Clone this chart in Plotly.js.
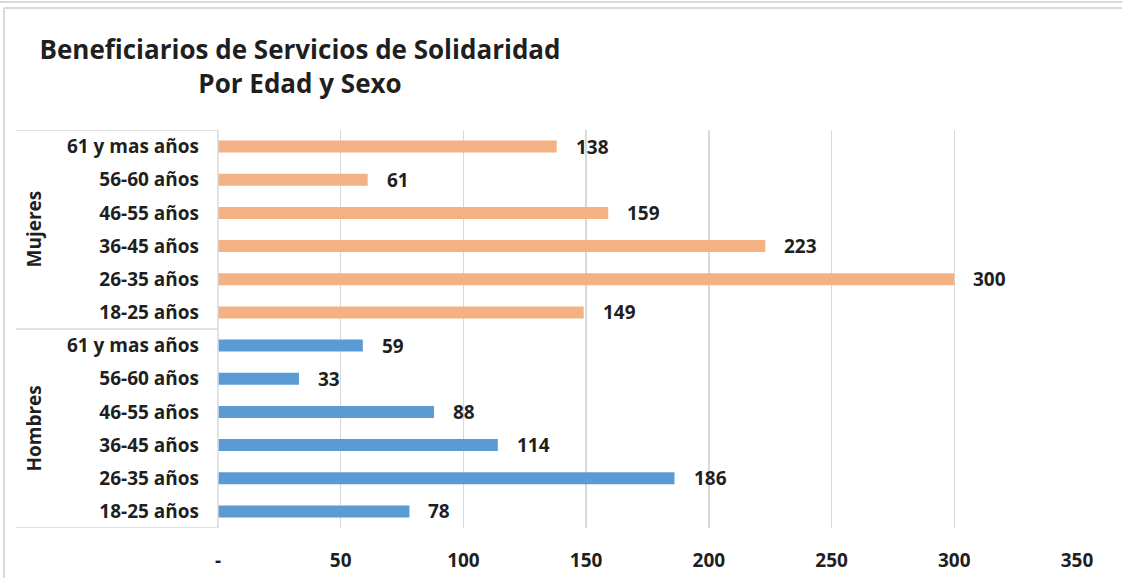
<!DOCTYPE html>
<html>
<head>
<meta charset="utf-8">
<script src="https://cdn.plot.ly/plotly-3.0.1.min.js"></script>
<style>html,body{margin:0;padding:0;background:#fff;}#chart{width:1122px;height:578px;}</style>
</head>
<body>
<div id="chart"></div>
<script>
const ageGroups = ["18-25 años", "26-35 años", "36-45 años", "46-55 años", "56-60 años", "61 y mas años"];
const hombres = [78, 186, 114, 88, 33, 59];
const mujeres = [149, 300, 223, 159, 61, 138];
const sexes = ["Hombres", "Mujeres"];
const xTickVals = [0, 50, 100, 150, 200, 250, 300, 350];
const xTickText = ["-", "50", "100", "150", "200", "250", "300", "350"];
const titleText = "<b>Beneficiarios de Servicios de Solidaridad</b><br><b>Por Edad y Sexo</b>";

const FONT = "'Open Sans', sans-serif";
const TXT = "#1f1f1f";
const key = (s, a) => s + " | " + a;
const hKeys = ageGroups.map(a => key(sexes[0], a));
const mKeys = ageGroups.map(a => key(sexes[1], a));
const allKeys = hKeys.concat(mKeys);
const allText = ageGroups.concat(ageGroups).map(t => "<b>" + t + "</b>");

const traces = [
  {type: "bar", orientation: "h", x: hombres, y: hKeys, name: sexes[0],
   marker: {color: "#5B9BD5"}, width: 0.36, hoverinfo: "x+y"},
  {type: "bar", orientation: "h", x: mujeres, y: mKeys, name: sexes[1],
   marker: {color: "#F4B183"}, width: 0.36, hoverinfo: "x+y"}
];

const labelFont = {family: FONT, size: 19, color: TXT};
const annotations = [];
hombres.forEach((v, i) => annotations.push({x: v, y: hKeys[i], xref: "x", yref: "y", text: "<b>" + v + "</b>",
  showarrow: false, xanchor: "left", xshift: 17, font: labelFont}));
mujeres.forEach((v, i) => annotations.push({x: v, y: mKeys[i], xref: "x", yref: "y", text: "<b>" + v + "</b>",
  showarrow: false, xanchor: "left", xshift: 17, font: labelFont}));
// group labels
annotations.push({x: (33 - 218) / 859, y: 2.5, xref: "paper", yref: "y", text: "<b>" + sexes[0] + "</b>", textangle: -90, showarrow: false,
  xanchor: "center", yanchor: "middle", font: labelFont});
annotations.push({x: (33 - 218) / 859, y: 8.5, xref: "paper", yref: "y", text: "<b>" + sexes[1] + "</b>", textangle: -90, showarrow: false,
  xanchor: "center", yanchor: "middle", font: labelFont});

const lineStyle = {color: "#D9D9D9", width: 1.5};
const px = v => (v - 218) / 859;
const py = v => (528 - v) / 398;
const shapes = [
  {type: "line", xref: "paper", yref: "y", x0: px(16), x1: 0, y0: 11.5, y1: 11.5, line: lineStyle},
  {type: "line", xref: "paper", yref: "y", x0: px(16), x1: 0, y0: 5.5, y1: 5.5, line: lineStyle},
  {type: "line", xref: "paper", yref: "y", x0: px(16), x1: 0, y0: -0.5, y1: -0.5, line: lineStyle},
  {type: "line", xref: "paper", yref: "y", x0: 0, x1: 0, y0: -0.5, y1: 11.5, line: lineStyle},
  // outer frame
  {type: "line", xref: "paper", yref: "paper", x0: px(4), x1: px(4), y0: py(8), y1: py(590), line: {color: "#D9D9D9", width: 2}},
  {type: "line", xref: "paper", yref: "paper", x0: px(4), x1: px(1130), y0: py(8), y1: py(8), line: {color: "#D9D9D9", width: 2}},
  {type: "line", xref: "paper", yref: "paper", x0: px(-5), x1: px(1130), y0: py(2), y1: py(2), line: {color: "#D9D9D9", width: 2}}
];

const layout = {
  width: 1122, height: 578,
  margin: {l: 218, r: 45, t: 130, b: 50},
  paper_bgcolor: "#fff", plot_bgcolor: "#fff",
  showlegend: false,
  title: {text: titleText, x: 300 / 1122, xanchor: "center", xref: "container", y: 1 - 59 / 578, yanchor: "top",
    yref: "container", font: {family: FONT, size: 26, color: TXT}},
  xaxis: {range: [0, 350], tickvals: xTickVals, ticktext: xTickText.map(t => "<b>" + t + "</b>"), showgrid: true, gridcolor: "#D9D9D9",
    gridwidth: 1.5, zeroline: false, showline: false, ticks: "", ticklabelstandoff: 19,
    tickfont: labelFont, fixedrange: true},
  yaxis: {type: "category", categoryorder: "array", categoryarray: allKeys, tickvals: allKeys, ticktext: allText,
    range: [-0.5, 11.5], showgrid: false, zeroline: false, showline: false, ticks: "", ticklabelstandoff: 18,
    tickfont: labelFont, fixedrange: true},
  annotations: annotations,
  shapes: shapes
};

Plotly.newPlot("chart", traces, layout, {displayModeBar: false, staticPlot: true});
</script>
</body>
</html>
